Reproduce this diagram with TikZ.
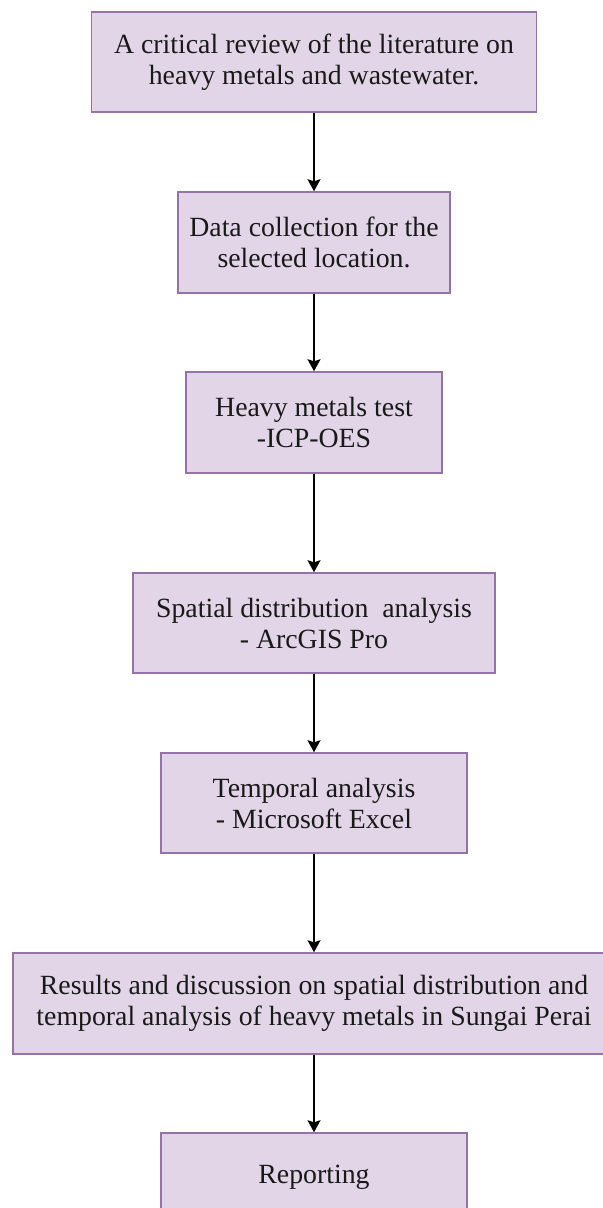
\documentclass[tikz,border=0pt]{standalone}
\usepackage{fontspec}
\setmainfont{Liberation Serif}
\usetikzlibrary{arrows.meta}
\definecolor{boxfill}{HTML}{E1D5E7}
\definecolor{boxdraw}{HTML}{9673A6}
\begin{document}
\begin{tikzpicture}[x=0.5pt,y=-0.5pt,
  stepbox/.style={draw=boxdraw, fill=boxfill, line width=0.75pt, align=center,
    inner sep=0pt, text=black!90, font=\fontsize{13.9}{15.5}\selectfont},
  flow/.style={-{Stealth[length=6pt,width=6.5pt,inset=1pt]}, line width=0.75pt, black}]
\useasboundingbox (0,0) rectangle (603,1208);
\node[stepbox, minimum width=222.5pt, minimum height=50pt] (b1) at (314,62)
  {A critical review of the literature on\\heavy metals and wastewater.};
\node[stepbox, minimum width=136pt, minimum height=50.5pt] (b2) at (314,242.5)
  {Data collection for the\\selected location.};
\node[stepbox, minimum width=128pt, minimum height=50.5pt] (b3) at (314,422.5)
  {Heavy metals test\\-ICP-OES};
\node[stepbox, minimum width=181pt, minimum height=50pt] (b4) at (314,623)
  {Spatial distribution\ \ analysis\\- ArcGIS Pro};
\node[stepbox, minimum width=153pt, minimum height=50pt] (b5) at (314,803)
  {Temporal analysis\\- Microsoft Excel};
\node[stepbox, minimum width=301pt, minimum height=50.5pt] (b6) at (314,1003.5)
  {Results and discussion on spatial distribution and\\temporal analysis of heavy metals in Sungai Perai};
\node[stepbox, minimum width=153pt, minimum height=44pt] (b7) at (314,1177)
  {Reporting};
\draw[flow] (b1) -- (b2);
\draw[flow] (b2) -- (b3);
\draw[flow] (b3) -- (b4);
\draw[flow] (b4) -- (b5);
\draw[flow] (b5) -- (b6);
\draw[flow] (b6) -- (b7);
\end{tikzpicture}
\end{document}
